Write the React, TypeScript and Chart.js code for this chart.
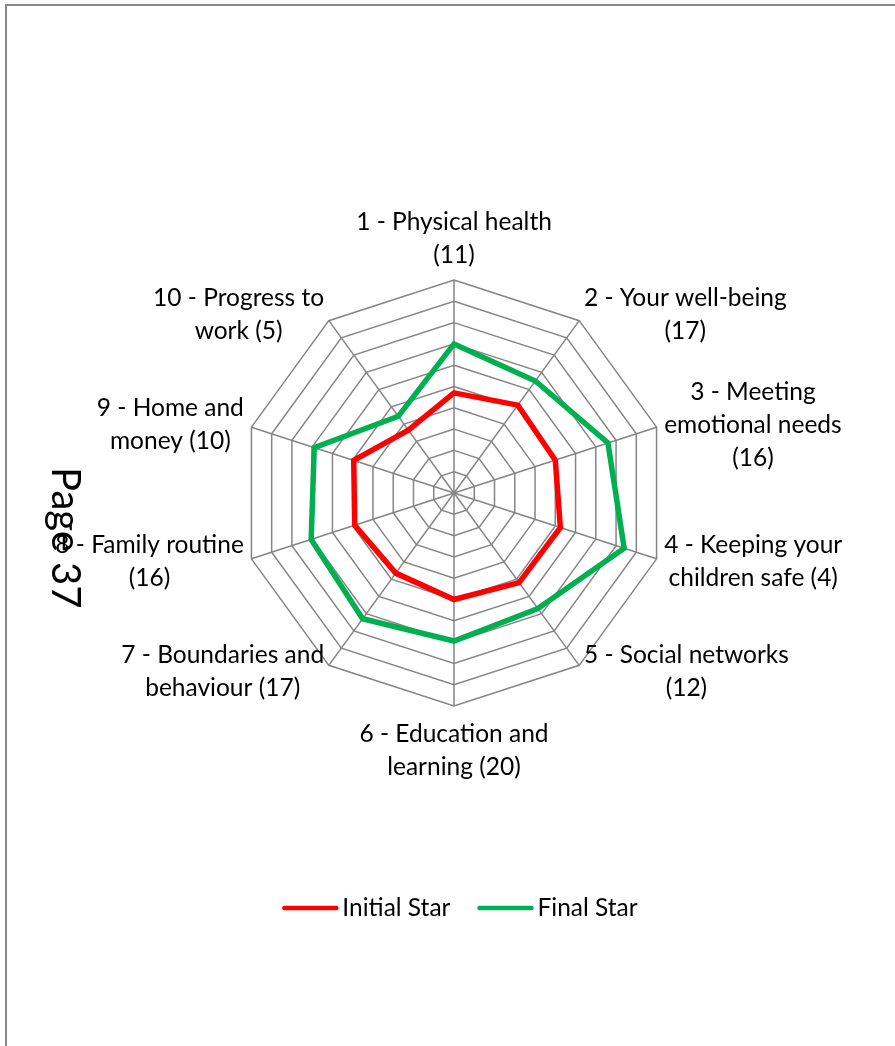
import { useEffect, useRef } from "react";
import { Chart, registerables } from "chart.js";

Chart.register(...registerables);

// Star outcome areas (multi-line labels as they are broken on the chart)
const categories: string[][] = [
  ["1 - Physical health", "(11)"],
  ["2 - Your well-being", "(17)"],
  ["3 - Meeting", "emotional needs", "(16)"],
  ["4 - Keeping your", "children safe (4)"],
  ["5 - Social networks", "(12)"],
  ["6 - Education and", "learning (20)"],
  ["7 - Boundaries and", "behaviour (17)"],
  ["8 - Family routine", "(16)"],
  ["9 - Home and", "money (10)"],
  ["10 - Progress to", "work (5)"],
];

const initialStar = [4.7, 5.1, 5.0, 5.25, 5.2, 5.0, 4.65, 4.9, 4.95, 3.65];
const finalStar = [7.0, 6.5, 7.6, 8.4, 6.7, 6.95, 7.3, 7.05, 6.9, 4.45];

const seriesNames = ["Initial Star", "Final Star"];
const seriesColors = ["#ff0000", "#00b050"];

const scaleMin = 0;
const scaleMax = 10;
const scaleStep = 1;

const pageLabel = "Page 37";

const FONT_FAMILY = "Lato, 'Noto Sans', 'DejaVu Sans', sans-serif";
const TEXT_SIZE = 24.5;
const LINE_HEIGHT = 33;

// Category labels drawn as centred text blocks just outside the outer ring
const pointLabelBlocks = {
  id: "pointLabelBlocks",
  afterDraw(chart: any) {
    const scale = chart.scales.r;
    const ctx: CanvasRenderingContext2D = chart.ctx;
    const labels = chart.data.labels as string[][];
    ctx.save();
    ctx.font = `${TEXT_SIZE}px ${FONT_FAMILY}`;
    ctx.fillStyle = "#000000";
    ctx.textAlign = "center";
    ctx.textBaseline = "middle";
    labels.forEach((lines, i) => {
      const p = scale.getPointPosition(i, scale.drawingArea + 8);
      const w = Math.max(...lines.map((l) => ctx.measureText(l).width));
      const h = lines.length * LINE_HEIGHT;
      const dx = p.x - scale.xCenter;
      const dy = p.y - scale.yCenter;
      let cx: number;
      let top: number;
      if (Math.abs(dx) < 1) {
        cx = p.x;
        top = dy < 0 ? p.y - h : p.y + 4;
      } else {
        cx = dx > 0 ? p.x + w / 2 : p.x - w / 2;
        top = p.y - h / 2;
      }
      lines.forEach((l, j) => ctx.fillText(l, cx, top + LINE_HEIGHT * (j + 0.5)));
    });
    ctx.restore();
  },
};

// Line-sample legend centred below the radar
const lineLegend = {
  id: "lineLegend",
  afterDraw(chart: any, _args: any, opts: any) {
    const ctx: CanvasRenderingContext2D = chart.ctx;
    ctx.save();
    ctx.font = `${TEXT_SIZE}px ${FONT_FAMILY}`;
    ctx.textBaseline = "middle";
    ctx.textAlign = "left";
    const items = chart.data.datasets.map((ds: any) => ({
      text: ds.label as string,
      color: ds.borderColor as string,
      w: ctx.measureText(ds.label).width,
    }));
    const total =
      items.reduce((s: number, it: any) => s + opts.lineLength + opts.textGap + it.w, 0) +
      opts.itemGap * (items.length - 1);
    let x = opts.centerX - total / 2;
    const y = opts.y;
    items.forEach((it: any) => {
      ctx.strokeStyle = it.color;
      ctx.lineWidth = 4.5;
      ctx.lineCap = "round";
      ctx.beginPath();
      ctx.moveTo(x + 2, y);
      ctx.lineTo(x + opts.lineLength - 2, y);
      ctx.stroke();
      x += opts.lineLength + opts.textGap;
      ctx.fillStyle = "#000000";
      ctx.fillText(it.text, x, y);
      x += it.w + opts.itemGap;
    });
    ctx.restore();
  },
};

// Rotated page number printed down the left margin
const pageNumber = {
  id: "pageNumber",
  afterDraw(chart: any, _args: any, opts: any) {
    const ctx: CanvasRenderingContext2D = chart.ctx;
    ctx.save();
    ctx.translate(opts.x, opts.y);
    ctx.rotate(Math.PI / 2);
    ctx.font = `${opts.size}px ${FONT_FAMILY}`;
    ctx.fillStyle = "#000000";
    ctx.textAlign = "left";
    ctx.textBaseline = "alphabetic";
    ctx.fillText(opts.text, 0, 0);
    ctx.restore();
  },
};

export default function App() {
  const canvasRef = useRef<HTMLCanvasElement | null>(null);

  useEffect(() => {
    const canvas = canvasRef.current;
    if (!canvas) return;
    const chart = new Chart(canvas, {
      type: "radar",
      data: {
        labels: categories as any,
        datasets: [
          {
            label: seriesNames[0],
            data: initialStar,
            borderColor: seriesColors[0],
            backgroundColor: seriesColors[0],
            borderWidth: 5.5,
            pointRadius: 0,
            fill: false,
            tension: 0,
            borderJoinStyle: "miter",
          },
          {
            label: seriesNames[1],
            data: finalStar,
            borderColor: seriesColors[1],
            backgroundColor: seriesColors[1],
            borderWidth: 5.5,
            pointRadius: 0,
            fill: false,
            tension: 0,
            borderJoinStyle: "miter",
          },
        ],
      },
      options: {
        responsive: false,
        animation: false,
        devicePixelRatio: 1,
        layout: { padding: { left: 241, right: 228, top: 280, bottom: 340 } },
        plugins: {
          legend: { display: false },
          tooltip: { enabled: false },
          lineLegend: { centerX: 460, y: 908, lineLength: 56, textGap: 4, itemGap: 27 },
          pageNumber: { text: pageLabel, x: 52, y: 467, size: 40 },
        } as any,
        scales: {
          r: {
            min: scaleMin,
            max: scaleMax,
            ticks: { display: false, stepSize: scaleStep },
            grid: { color: "#858585", lineWidth: 1.5 },
            angleLines: { color: "#858585", lineWidth: 1.5 },
            pointLabels: { display: false },
          },
        },
      },
      plugins: [pointLabelBlocks, lineLegend, pageNumber],
    });
    return () => chart.destroy();
  }, []);

  return (
    <div
      style={{
        position: "absolute",
        left: 0,
        top: 0,
        width: 895,
        height: 1046,
        overflow: "hidden",
        background: "#ffffff",
      }}
    >
      <div
        style={{
          position: "absolute",
          left: 5,
          top: 4,
          right: 0,
          bottom: 0,
          borderTop: "2px solid #8a8a8a",
          borderLeft: "2px solid #8a8a8a",
        }}
      />
      <canvas
        ref={canvasRef}
        width={895}
        height={1046}
        style={{ position: "absolute", left: 0, top: 0, width: 895, height: 1046 }}
      />
    </div>
  );
}
